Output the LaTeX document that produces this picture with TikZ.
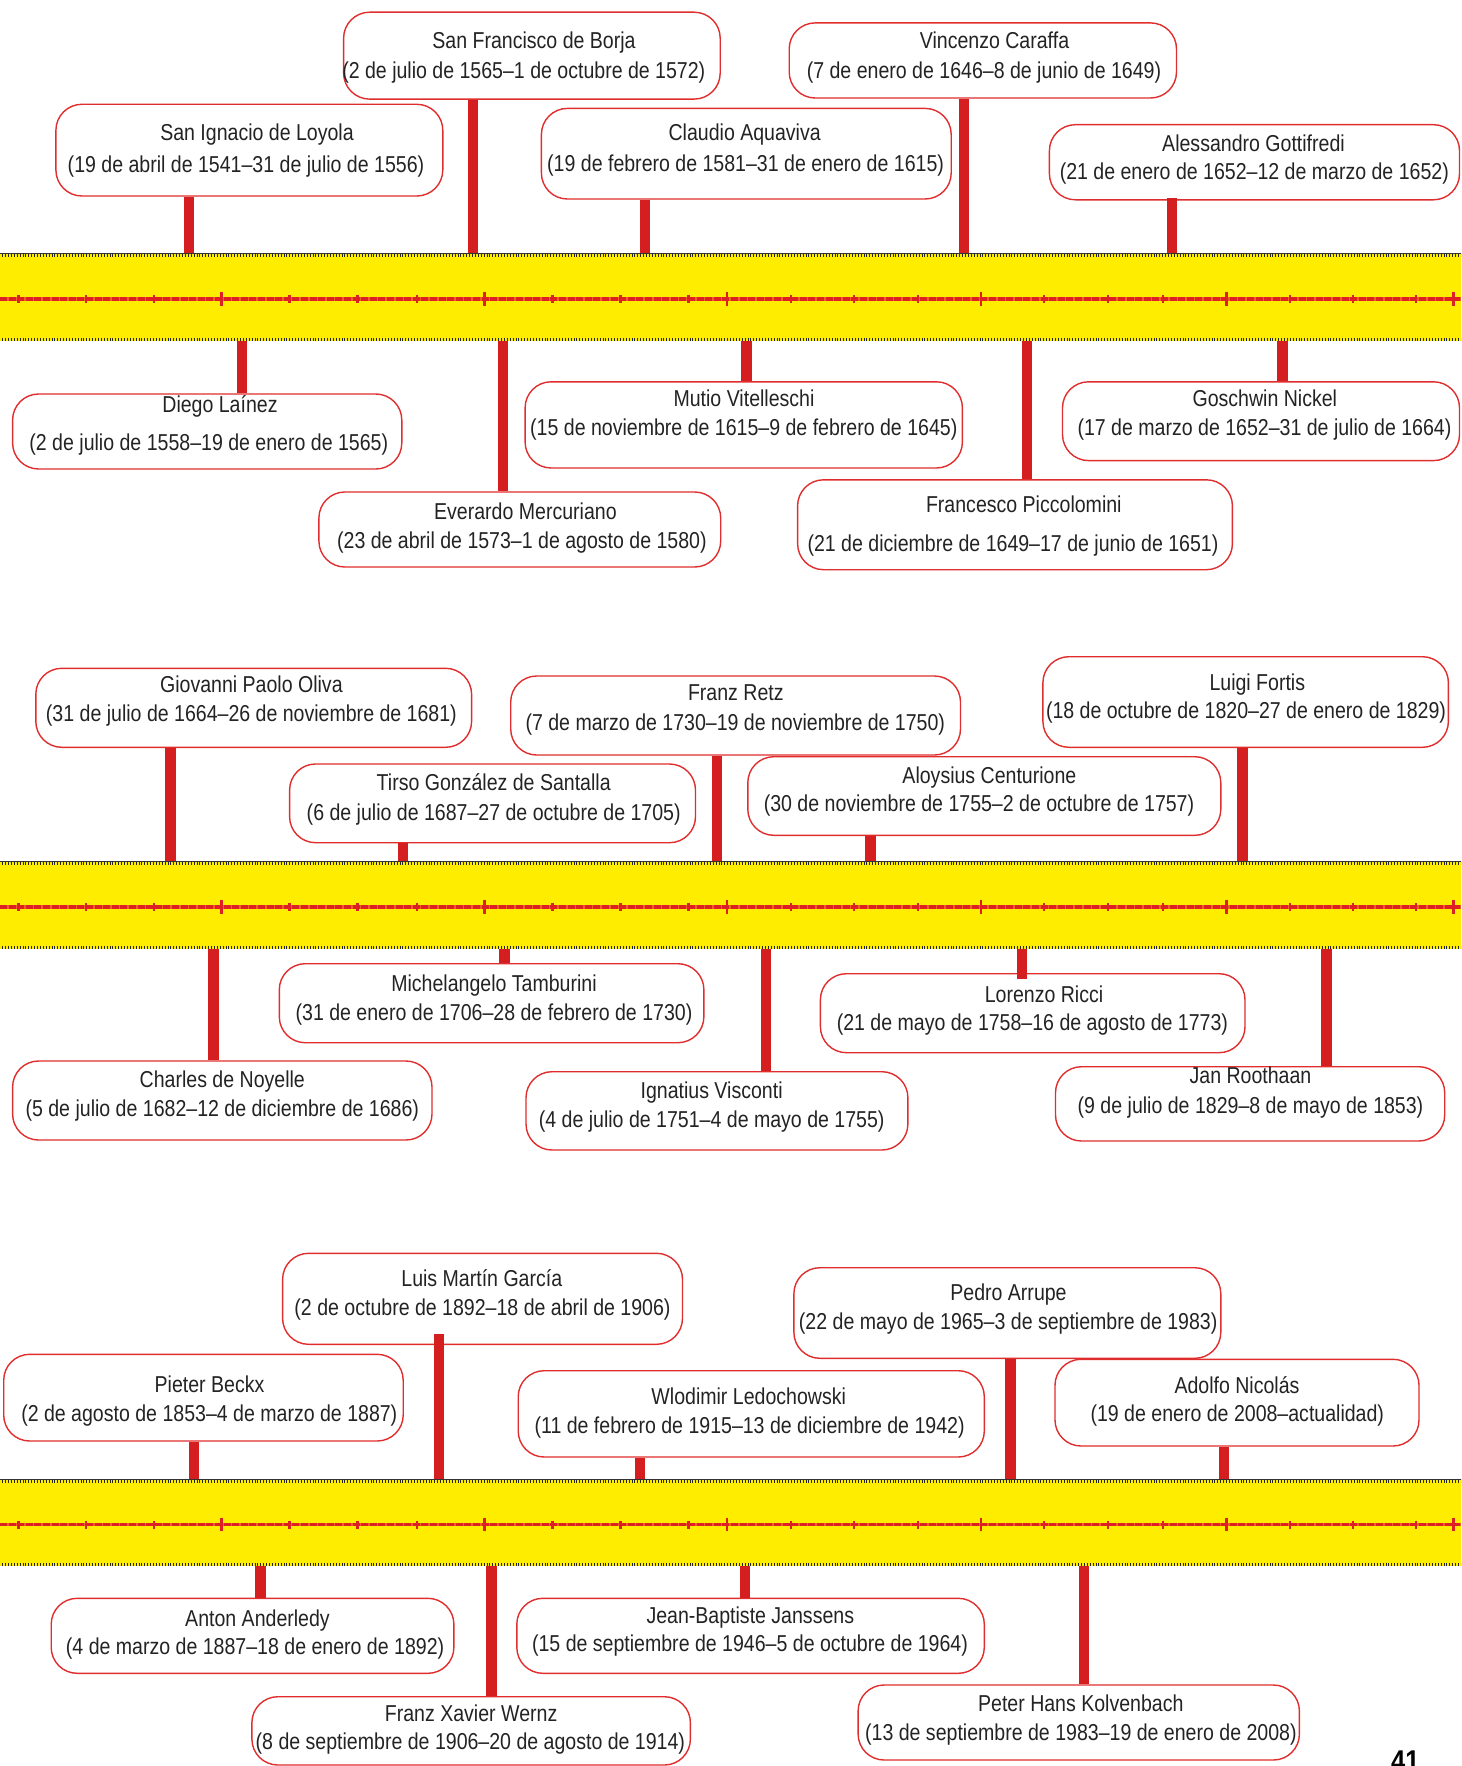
\documentclass[tikz,border=0pt]{standalone}
\usepackage{fontspec}
\setmainfont[FakeStretch=0.85]{Liberation Sans}
\usetikzlibrary{calc}
\definecolor{barY}{RGB}{255,237,0}
\definecolor{boxR}{RGB}{224,45,45}
\definecolor{conR}{RGB}{212,30,32}
\definecolor{axR}{RGB}{220,32,36}
\definecolor{axL}{RGB}{236,96,40}
\definecolor{txtG}{RGB}{35,35,35}
\newcommand\JBox[5]{\node[jbox, minimum width={#3-#2}, minimum height={#5-#4}] (#1) at ({(#2+#3)/2},{(#4+#5)/2}) {};}
\newcommand\JTxt[4]{\node[lbl] (#1) at (#2,#3) {#4};}
\begin{document}
\begin{tikzpicture}[x=1pt,y=-1pt,
  jbox/.style={draw=boxR, line width=1.4pt, fill=white, rounded corners=26pt, inner sep=0pt},
  lbl/.style={anchor=base, inner sep=0pt, text=txtG, font=\fontsize{23}{28}\selectfont},
  conn/.style={draw=conR, line width=10.5pt},
  barbox/.style={fill=barY, draw=none, minimum width=1462pt, minimum height=86.5pt, inner sep=0pt},
  edgeL/.style={draw=black!80, line width=1.1pt},
  edgeD/.style={draw=black!85, line width=3pt, dash pattern=on 1pt off 1.9pt},
  axbase/.style={draw=axL, line width=3.4pt},
  axdash/.style={draw=axR, line width=3.4pt, dash pattern=on 7pt off 1.6pt},
  tk/.style={draw=axR, line width=2.4pt}]
\useasboundingbox (0,0) rectangle (1461,1766);
\clip (0,0) rectangle (1461,1766);

% ---------- bars ----------
\foreach \n/\ty in {1/254, 2/862, 3/1479.5}{
  \node[barbox] (bar\n) at (730.5,{\ty+43.25}) {};
}

% ---------- band 1 boxes ----------
\JBox{b1}{343.6}{720.2}{12.2}{99.1}
\JBox{b2}{55.9}{442.8}{104.3}{196}
\JBox{b3}{541.4}{951.2}{108.4}{199}
\JBox{b4}{789.2}{1176.5}{22.9}{98}
\JBox{b5}{1049.4}{1459.5}{124.7}{199.8}
\JBox{b6}{12.6}{401.8}{394}{469}
\JBox{b7}{318.9}{720.7}{492}{567}
\JBox{b8}{525.1}{962.4}{381.8}{468}
\JBox{b9}{1062.5}{1459.5}{381.8}{460.6}
\JBox{b10}{797.6}{1232.4}{479.8}{569.7}
% ---------- band 2 boxes ----------
\JBox{b11}{35.8}{471.6}{668.3}{747.3}
\JBox{b12}{510.7}{960.5}{676}{755}
\JBox{b13}{289.6}{695.5}{764}{842.7}
\JBox{b14}{747.8}{1220.8}{756.7}{835.3}
\JBox{b15}{1042.9}{1448.4}{656.7}{747.3}
\JBox{b16}{279.3}{703.9}{963.7}{1042.7}
\JBox{b17}{12.6}{432}{1061}{1140}
\JBox{b18}{526}{907.9}{1071.7}{1150}
\JBox{b19}{820.4}{1245}{973.7}{1052.7}
\JBox{b20}{1055.5}{1444.7}{1066.7}{1141}
% ---------- band 3 boxes ----------
\JBox{b21}{282.6}{682.5}{1253.3}{1344.3}
\JBox{b22}{3.7}{403.2}{1354.3}{1441}
\JBox{b23}{518.2}{984.3}{1370.7}{1457}
\JBox{b24}{793.9}{1220.8}{1267.7}{1358.3}
\JBox{b25}{1055}{1419}{1359.3}{1446}
\JBox{b26}{51.2}{453.9}{1598.3}{1673.3}
\JBox{b27}{516.8}{984.3}{1598.3}{1673.3}
\JBox{b28}{251.9}{690.4}{1696.7}{1765}
\JBox{b29}{858.1}{1299.4}{1685}{1760}

% ---------- connector x positions ----------
\coordinate (k1) at (473,0);   \coordinate (k2) at (189,0);
\coordinate (k3) at (645,0);   \coordinate (k4) at (964,0);
\coordinate (k5) at (1172,0);  \coordinate (k6) at (242,0);
\coordinate (k7) at (503,0);   \coordinate (k8) at (746.6,0);
\coordinate (k9) at (1282.7,0);\coordinate (k10) at (1027,0);
\coordinate (k11) at (170.4,0);\coordinate (k12) at (717,0);
\coordinate (k13) at (403,0);  \coordinate (k14) at (870.4,0);
\coordinate (k15) at (1242.6,0);\coordinate (k16) at (504.7,0);
\coordinate (k17) at (213.7,0);\coordinate (k18) at (766,0);
\coordinate (k19) at (1022,0); \coordinate (k20) at (1326.7,0);
\coordinate (k21) at (438.8,0);\coordinate (k22) at (194,0);
\coordinate (k23) at (640,0);  \coordinate (k24) at (1010.3,0);
\coordinate (k25) at (1224,0); \coordinate (k26) at (260.5,0);
\coordinate (k27) at (745,0);  \coordinate (k28) at (491.6,0);
\coordinate (k29) at (1084,0);

% ---------- connectors (above the bars) ----------
\foreach \i/\n in {1/1,2/1,3/1,4/1,11/2,12/2,13/2,14/2,15/2,22/3,23/3,24/3,25/3}{
  \draw[conn] (k\i |- b\i.south) -- (k\i |- bar\n.north);
}
\draw[conn] ($(k5 |- b5.south)+(0,-3)$) -- (k5 |- bar1.north);
\draw[conn] ($(k21 |- b21.south)+(0,-11)$) -- (k21 |- bar3.north);
% ---------- connectors (below the bars) ----------
\foreach \i/\n in {6/1,7/1,8/1,9/1,10/1,16/2,17/2,18/2,20/2,26/3,27/3,28/3,29/3}{
  \draw[conn] (k\i |- bar\n.south) -- (k\i |- b\i.north);
}
\draw[conn] (k19 |- bar2.south) -- ($(k19 |- b19.north)+(0,6)$);

% ---------- bar edges, axis and ticks ----------
\foreach \n/\ty in {1/254, 2/862, 3/1479.5}{
  \draw[edgeL] (bar\n.north west) -- (bar\n.north east);
  \draw[edgeD] ([yshift=-2pt]bar\n.north west) -- ([yshift=-2pt]bar\n.north east);
  \draw[edgeD] ([yshift=1.6pt]bar\n.south west) -- ([yshift=1.6pt]bar\n.south east);
  \draw[axbase] (0,{\ty+45}) -- (1461,{\ty+45});
  \draw[axdash] (0,{\ty+45}) -- (1461,{\ty+45});
  \foreach \x in {18.6,86,154,289.6,357.5,416.7,552.6,620.6,688.5,791,854,918,1044,1108,1163,1290,1353,1416}{
    \draw[tk] (\x,{\ty+41}) -- (\x,{\ty+49});
  }
  \foreach \x in {221.6,484.6,727,981,1226.5,1453.5}{
    \draw[tk, line width=2.8pt] (\x,{\ty+38.3}) -- (\x,{\ty+51.7});
  }
}

% ---------- texts ----------
\JTxt{t1a}{534}{48.8}{San Francisco de Borja}
\JTxt{t1b}{523.8}{78.4}{(2 de julio de 1565–1 de octubre de 1572)}
\JTxt{t2a}{257}{140.5}{San Ignacio de Loyola}
\JTxt{t2b}{246}{172.5}{(19 de abril de 1541–31 de julio de 1556)}
\JTxt{t3a}{744.7}{141}{Claudio Aquaviva}
\JTxt{t3b}{745.6}{171.5}{(19 de febrero de 1581–31 de enero de 1615)}
\JTxt{t4a}{994.5}{48.8}{Vincenzo Caraffa}
\JTxt{t4b}{984}{78.4}{(7 de enero de 1646–8 de junio de 1649)}
\JTxt{t5a}{1253.5}{151.7}{Alessandro Gottifredi}
\JTxt{t5b}{1254.3}{179.4}{(21 de enero de 1652–12 de marzo de 1652)}
\JTxt{t6a}{220}{412.5}{Diego Laínez}
\JTxt{t6b}{208.8}{450.6}{(2 de julio de 1558–19 de enero de 1565)}
\JTxt{t7a}{525.4}{519.8}{Everardo Mercuriano}
\JTxt{t7b}{521.9}{548.6}{(23 de abril de 1573–1 de agosto de 1580)}
\JTxt{t8a}{744}{406}{Mutio Vitelleschi}
\JTxt{t8b}{743.8}{435.8}{(15 de noviembre de 1615–9 de febrero de 1645)}
\JTxt{t9a}{1264.8}{406}{Goschwin Nickel}
\JTxt{t9b}{1264.5}{435.8}{(17 de marzo de 1652–31 de julio de 1664)}
\JTxt{t10a}{1023.8}{512.4}{Francesco Piccolomini}
\JTxt{t10b}{1013}{551}{(21 de diciembre de 1649–17 de junio de 1651)}

\JTxt{t11a}{251.4}{692.7}{Giovanni Paolo Oliva}
\JTxt{t11b}{251.4}{721}{(31 de julio de 1664–26 de noviembre de 1681)}
\JTxt{t12a}{735.8}{700}{Franz Retz}
\JTxt{t12b}{735.3}{730}{(7 de marzo de 1730–19 de noviembre de 1750)}
\JTxt{t13a}{493.7}{790.7}{Tirso González de Santalla}
\JTxt{t13b}{493.7}{820}{(6 de julio de 1687–27 de octubre de 1705)}
\JTxt{t14a}{989.4}{783.3}{Aloysius Centurione}
\JTxt{t14b}{979}{811.7}{(30 de noviembre de 1755–2 de octubre de 1757)}
\JTxt{t15a}{1257.3}{690}{Luigi Fortis}
\JTxt{t15b}{1246}{718.3}{(18 de octubre de 1820–27 de enero de 1829)}
\JTxt{t16a}{494}{991.7}{Michelangelo Tamburini}
\JTxt{t16b}{494}{1020.7}{(31 de enero de 1706–28 de febrero de 1730)}
\JTxt{t17a}{222.3}{1087.7}{Charles de Noyelle}
\JTxt{t17b}{222.3}{1116.7}{(5 de julio de 1682–12 de diciembre de 1686)}
\JTxt{t18a}{711.6}{1098.3}{Ignatius Visconti}
\JTxt{t18b}{711.7}{1127.3}{(4 de julio de 1751–4 de mayo de 1755)}
\JTxt{t19a}{1044}{1002.7}{Lorenzo Ricci}
\JTxt{t19b}{1032.4}{1030.7}{(21 de mayo de 1758–16 de agosto de 1773)}
\JTxt{t20a}{1250.5}{1083.3}{Jan Roothaan}
\JTxt{t20b}{1250.5}{1113.3}{(9 de julio de 1829–8 de mayo de 1853)}

\JTxt{t21a}{481.8}{1286.7}{Luis Martín García}
\JTxt{t21b}{482.5}{1315.7}{(2 de octubre de 1892–18 de abril de 1906)}
\JTxt{t22a}{209.5}{1392.7}{Pieter Beckx}
\JTxt{t22b}{209.3}{1421.7}{(2 de agosto de 1853–4 de marzo de 1887)}
\JTxt{t23a}{748.7}{1404.3}{Wlodimir Ledochowski}
\JTxt{t23b}{749.6}{1433.3}{(11 de febrero de 1915–13 de diciembre de 1942)}
\JTxt{t24a}{1008.5}{1300}{Pedro Arrupe}
\JTxt{t24b}{1008.2}{1329}{(22 de mayo de 1965–3 de septiembre de 1983)}
\JTxt{t25a}{1237}{1393.3}{Adolfo Nicolás}
\JTxt{t25b}{1237.3}{1421.7}{(19 de enero de 2008–actualidad)}
\JTxt{t26a}{257.5}{1626.7}{Anton Anderledy}
\JTxt{t26b}{255.1}{1654.3}{(4 de marzo de 1887–18 de enero de 1892)}
\JTxt{t27a}{750.3}{1623.3}{Jean-Baptiste Janssens}
\JTxt{t27b}{750}{1651.7}{(15 de septiembre de 1946–5 de octubre de 1964)}
\JTxt{t28a}{471.1}{1721.7}{Franz Xavier Wernz}
\JTxt{t28b}{470.4}{1749}{(8 de septiembre de 1906–20 de agosto de 1914)}
\JTxt{t29a}{1080.8}{1711.7}{Peter Hans Kolvenbach}
\JTxt{t29b}{1080.9}{1740}{(13 de septiembre de 1983–19 de enero de 2008)}

% ---------- page number (cut off by the page edge, as in the reference) ----------
\node[anchor=north west, inner sep=0pt, text=black, font=\bfseries\fontsize{30}{30}\selectfont] (pg) at (1391,1751) {41};
\end{tikzpicture}
\end{document}
